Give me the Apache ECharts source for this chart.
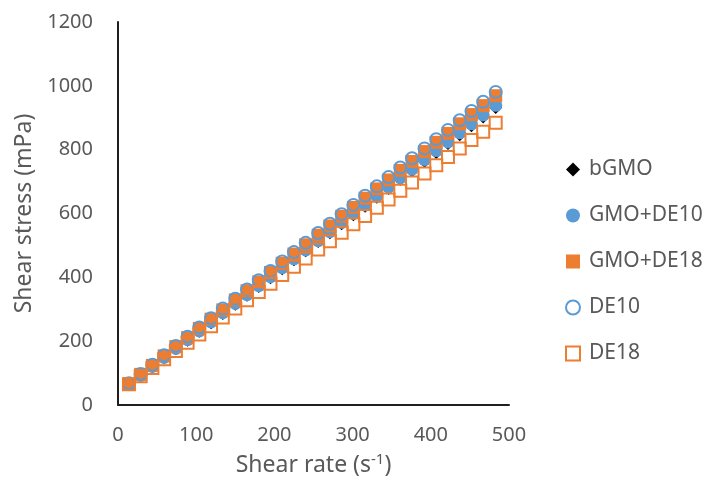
<!DOCTYPE html>
<html>
<head>
<meta charset="utf-8">
<script src="https://cdn.jsdelivr.net/npm/echarts@6/dist/echarts.min.js"></script>
<style>
  html, body { margin: 0; padding: 0; background: #fff; }
  #chart { width: 708px; height: 495px; }
</style>
</head>
<body>
<div id="chart"></div>
<script>
// Shear rate (1/s) at each measurement step
var shearRate = [14, 29, 44, 59, 74, 89, 104, 119, 134, 150, 165, 180, 195, 210, 225, 240,
                 256, 271, 286, 301, 316, 331, 346, 361, 376, 392, 407, 422, 437, 452, 467, 483];

// Shear stress (mPa) for each sample
var bGMO = [65, 92, 120, 148, 176, 203, 231, 258, 287, 316, 344, 371, 399, 427, 455, 483,
            512, 540, 568, 596, 623, 651, 678, 707, 734, 764, 791, 819, 847, 875, 902, 932];
var gmoDE10 = [66, 93, 121, 149, 177, 205, 232, 260, 289, 318, 346, 374, 402, 430, 458, 486,
               515, 543, 572, 600, 627, 655, 683, 712, 739, 769, 797, 824, 853, 881, 909, 939];
var gmoDE18 = [67, 96, 124, 154, 183, 211, 240, 269, 298, 329, 358, 386, 415, 444, 473, 502,
               532, 561, 591, 619, 648, 677, 705, 735, 763, 794, 823, 851, 881, 910, 938, 969];
var de10 = [68, 97, 126, 156, 185, 214, 243, 272, 302, 333, 362, 391, 420, 450, 479, 508,
            539, 568, 598, 627, 656, 685, 714, 744, 773, 804, 833, 862, 892, 921, 950, 981];
var de18 = [65, 90, 116, 143, 169, 195, 221, 247, 274, 302, 328, 354, 380, 407, 433, 459,
            487, 513, 540, 566, 592, 618, 644, 671, 697, 725, 751, 777, 804, 830, 856, 884];

var seriesNames = ['bGMO', 'GMO+DE10', 'GMO+DE18', 'DE10', 'DE18'];
var xTicks = [0, 100, 200, 300, 400, 500];
var yTicks = [0, 200, 400, 600, 800, 1000, 1200];

var BLUE = '#5B9BD5', ORANGE = '#ED7D31', TEXT = '#595959';
var FONT = 'Noto Sans';

function pairs(ys) {
  return shearRate.map(function (x, i) { return [x, ys[i]]; });
}

var chart = echarts.init(document.getElementById('chart'), null, { renderer: 'canvas' });

chart.setOption({
  animation: false,
  backgroundColor: '#fff',
  textStyle: { fontFamily: FONT },
  grid: { left: 118, right: 199, top: 22, bottom: 90 },
  xAxis: {
    type: 'value',
    min: xTicks[0], max: xTicks[xTicks.length - 1], interval: 100,
    axisLine: { show: true, onZero: false, lineStyle: { color: '#1f1f1f', width: 2 } },
    axisTick: { show: false },
    splitLine: { show: false },
    axisLabel: { color: TEXT, fontSize: 20, fontFamily: FONT, margin: 20,
                 formatter: function (v) { return String(v); } },
    name: 'Shear rate (s{sup|-1})',
    nameLocation: 'middle',
    nameGap: 47,
    nameTextStyle: {
      color: TEXT, fontSize: 23, fontFamily: FONT,
      rich: { sup: { color: TEXT, fontSize: 15, fontFamily: FONT, verticalAlign: 'top', padding: [0, 0, 11, 0] } }
    }
  },
  yAxis: {
    type: 'value',
    min: yTicks[0], max: yTicks[yTicks.length - 1], interval: 200,
    axisLine: { show: true, onZero: false, lineStyle: { color: '#1f1f1f', width: 2 } },
    axisTick: { show: false },
    splitLine: { show: false },
    axisLabel: { color: TEXT, fontSize: 20, fontFamily: FONT, margin: 25,
                 formatter: function (v) { return String(v); } },
    name: 'Shear stress (mPa)',
    nameLocation: 'middle',
    nameGap: 80,
    nameTextStyle: { color: TEXT, fontSize: 23, fontFamily: FONT }
  },
  legend: {
    orient: 'vertical',
    left: 560,
    top: 154,
    itemWidth: 14,
    itemHeight: 14,
    itemGap: 25,
    textStyle: { color: TEXT, fontSize: 21, fontFamily: FONT, padding: [0, 0, 0, 4] },
    data: [
      { name: seriesNames[0], icon: 'diamond', itemStyle: { color: '#000', borderWidth: 0 } },
      { name: seriesNames[1], icon: 'circle', itemStyle: { color: BLUE, borderWidth: 0 } },
      { name: seriesNames[2], icon: 'rect', itemStyle: { color: ORANGE, borderWidth: 0 } },
      { name: seriesNames[3], icon: 'circle', itemStyle: { color: '#fff', borderColor: BLUE, borderWidth: 2 } },
      { name: seriesNames[4], icon: 'rect', itemStyle: { color: '#fff', borderColor: ORANGE, borderWidth: 2 } }
    ]
  },
  series: [
    {
      name: seriesNames[0], type: 'scatter', data: pairs(bGMO),
      symbol: 'diamond', symbolSize: 13,
      itemStyle: { color: '#000', opacity: 1 }
    },
    {
      name: seriesNames[1], type: 'scatter', data: pairs(gmoDE10),
      symbol: 'circle', symbolSize: 13,
      itemStyle: { color: BLUE, opacity: 1 }
    },
    {
      name: seriesNames[2], type: 'scatter', data: pairs(gmoDE18),
      symbol: 'rect', symbolSize: 13,
      itemStyle: { color: ORANGE, opacity: 1 }
    },
    {
      name: seriesNames[3], type: 'scatter', data: pairs(de10),
      symbol: 'circle', symbolSize: 12,
      itemStyle: { color: 'rgba(0,0,0,0)', borderColor: BLUE, borderWidth: 2, opacity: 1 }
    },
    {
      name: seriesNames[4], type: 'scatter', data: pairs(de18),
      symbol: 'rect', symbolSize: 12,
      itemStyle: { color: 'rgba(0,0,0,0)', borderColor: ORANGE, borderWidth: 2, opacity: 1 }
    }
  ]
});
</script>
</body>
</html>
